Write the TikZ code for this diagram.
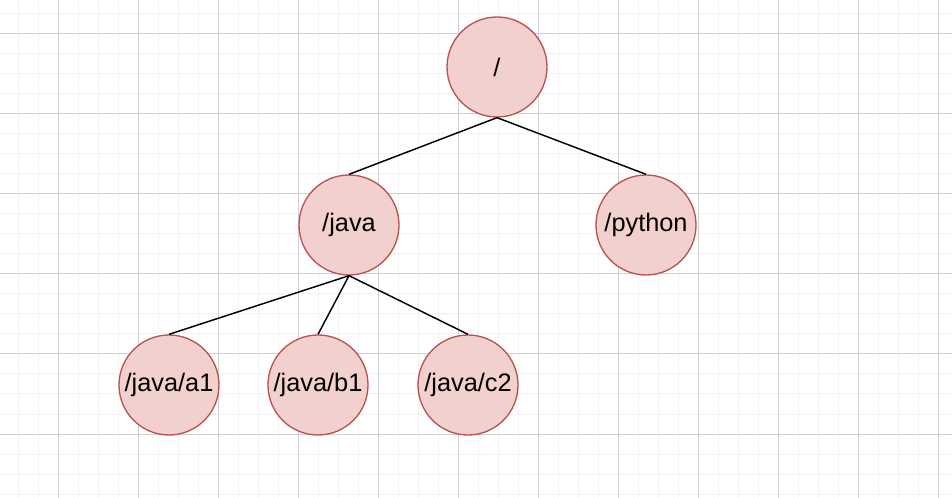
\documentclass[tikz,border=0pt]{standalone}
\usepackage{fontspec}
\setmainfont{Liberation Sans}
\usepackage{xcolor}
\usepackage{tikz}
\usetikzlibrary{positioning}
\definecolor{nodefill}{RGB}{242, 208, 206}
\definecolor{nodeline}{RGB}{184, 84, 80}
\definecolor{gridminor}{RGB}{242, 242, 242}
\definecolor{gridmajor}{RGB}{208, 208, 208}
\tikzset{
    dirnode/.style={circle, fill=nodefill, draw=nodeline, line width=1pt,
          minimum size=75pt, inner sep=0pt, font=\fontsize{19}{22}\selectfont},
    treeedge/.style={draw=black, line width=1.1pt}
}

\begin{document}
\begin{tikzpicture}[x=0.75pt, y=-0.75pt]
    \useasboundingbox (0,0) rectangle (952,498);
    % background grid
    \foreach \gx in {18,38,...,938} \draw[gridminor, line width=0.75pt] (\gx,0) -- (\gx,498);
    \foreach \gy in {14,34,...,494} \draw[gridminor, line width=0.75pt] (0,\gy) -- (952,\gy);
    \foreach \gx in {58,138,...,938} \draw[gridmajor, line width=0.75pt] (\gx,0) -- (\gx,498);
    \foreach \gy in {34,114,...,434} \draw[gridmajor, line width=0.75pt] (0,\gy) -- (952,\gy);

    \node[dirnode] (root) at (497,67) {/};
    \node[dirnode] (java) at (349,225) {/java};
    \node[dirnode] (python) at (646,225) {/python};
    \node[dirnode] (a1) at (169,385) {/java/a1};
    \node[dirnode] (b1) at (318,385) {/java/b1};
    \node[dirnode] (c2) at (468,385) {/java/c2};

    \draw[treeedge] (root.south) -- (java.north);
    \draw[treeedge] (root.south) -- (python.north);
    \draw[treeedge] (java.south) -- (a1.north);
    \draw[treeedge] (java.south) -- (b1.north);
    \draw[treeedge] (java.south) -- (c2.north);
\end{tikzpicture}
\end{document}
